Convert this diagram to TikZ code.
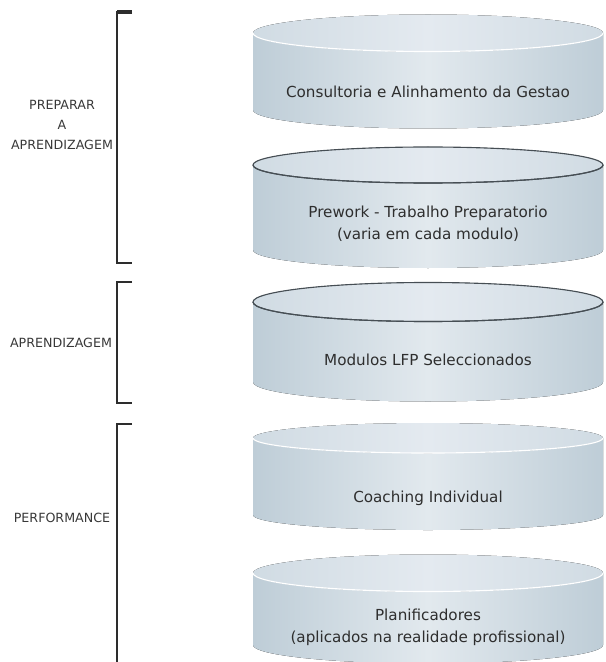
\documentclass[tikz,border=0pt]{standalone}
\usepackage{fontspec}
\setmainfont{DejaVu Sans}
\usepackage{tikz}
\usetikzlibrary{positioning}

\definecolor{discedge}{RGB}{190,205,215}
\definecolor{discmid}{RGB}{226,233,238}
\definecolor{topedge}{RGB}{208,219,227}
\definecolor{topmid}{RGB}{228,234,240}
\definecolor{rim}{RGB}{70,78,84}
\definecolor{bracketgrey}{RGB}{45,45,45}

\tikzset{%
  discside/.style = {left color=discedge, right color=discedge, middle color=discmid}, % body
  disctop/.style  = {left color=topedge, right color=topedge, middle color=topmid},   % lid
  disctext/.style = {align=center, font=\fontsize{10.8}{15.5}\selectfont, text=black!82},
  phase/.style    = {align=center, font=\fontsize{9}{14.2}\selectfont, text=black!78},
  bracket/.style  = {draw=bracketgrey, line width=1.3pt}
}

% #1 top y, #2 bottom y, #3 lid radius, #4 lid rim
\newcommand{\disc}[4]{%
  \fill[discside] (253,#1) -- (253,#2) arc[start angle=180, end angle=0, x radius=175, y radius=#3] -- (603,#1) -- cycle;
  \fill[disctop] (428,#1) ellipse[x radius=175, y radius=#3];
  \draw[#4] (253,#1) arc[start angle=180, end angle=0, x radius=175, y radius=#3];
}

\begin{document}
\begin{tikzpicture}[x=0.025cm, y=-0.025cm]
  \useasboundingbox (0,0) rectangle (605,662);

  % discs
  \disc{33}{110}{18.5}{white, line width=0.8pt}
  \disc{165}{250}{18}{rim, line width=0.8pt}
  \draw[rim, line width=0.8pt] (428,165) ellipse[x radius=175, y radius=18];
  \disc{302}{382}{19.5}{rim, line width=0.8pt}
  \draw[rim, line width=0.8pt] (428,302) ellipse[x radius=175, y radius=19.5];
  \disc{438}{515}{15}{white, line width=0.8pt}
  \disc{573}{645}{18.5}{white, line width=0.8pt}

  \node[disctext] (gestao) at (428,92) {Consultoria e Alinhamento da Gestao};
  \node[disctext] (prework) at (428,223.5) {Prework - Trabalho Preparatorio\\(varia em cada modulo)};
  \node[disctext] (modulos) at (428,360) {Modulos LFP Seleccionados};
  \node[disctext] (coaching) at (428,498) {Coaching Individual};
  \node[disctext] (planif) at (428,627.5) {Planificadores\\(aplicados na realidade profissional)};

  % brackets
  \draw[bracket] (132,12) -- (117,12) -- (117,263) -- (132,263);
  \draw[bracket, line width=2.2pt] (132,12) -- (117,12);
  \draw[bracket] (132,282) -- (117,282) -- (117,403) -- (132,403);
  \draw[bracket] (132,424) -- (117,424) -- (117,662);

  \node[phase] (preparar) at (62,125) {PREPARAR\\A\\APRENDIZAGEM};
  \node[phase] (aprend) at (61,343) {APRENDIZAGEM};
  \node[phase] (perf) at (62,518) {PERFORMANCE};

\end{tikzpicture}
\end{document}
